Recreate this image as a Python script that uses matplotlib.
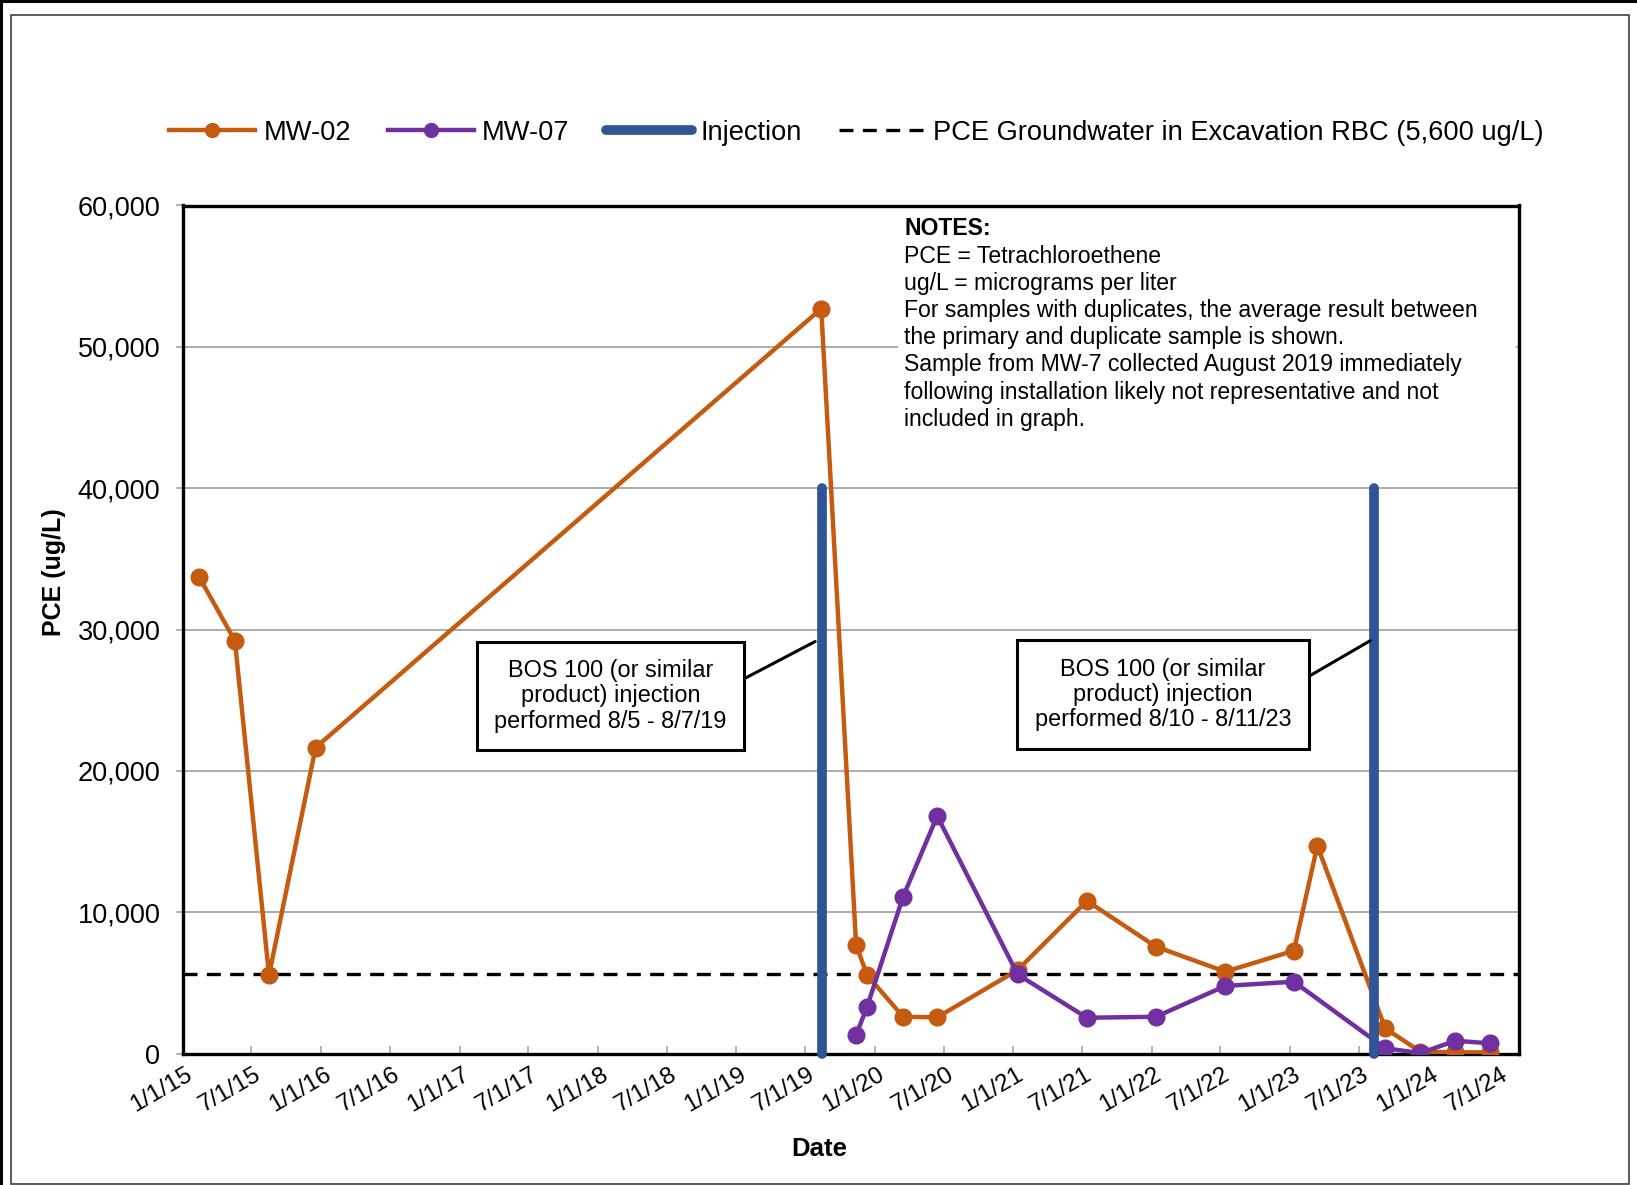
import numpy as np
import matplotlib
matplotlib.use("Agg")
import matplotlib.pyplot as plt
import matplotlib.dates as mdates
from matplotlib.lines import Line2D
from matplotlib.patches import Rectangle
from matplotlib.ticker import FuncFormatter, MultipleLocator
from matplotlib.transforms import ScaledTranslation

plt.rcParams['font.family'] = ['Liberation Sans', 'DejaVu Sans']

# MW-02 results (ug/L)
mw02_dates = np.array(['2015-02-14', '2015-05-19', '2015-08-17', '2015-12-18',
                       '2019-08-13', '2019-11-13', '2019-12-12', '2020-03-16',
                       '2020-06-14', '2021-01-12', '2021-07-14', '2022-01-12',
                       '2022-07-14', '2023-01-11', '2023-03-14', '2023-09-09',
                       '2023-12-11', '2024-03-12', '2024-06-12'], dtype='datetime64[D]')
mw02_pce = [33700, 29200, 5550, 21650,
            52700, 7680, 5550, 2600,
            2560, 5900, 10800, 7560,
            5790, 7270, 14700, 1780,
            130, 80, 80]

# MW-07 results (ug/L)
mw07_dates = np.array(['2019-11-13', '2019-12-12', '2020-03-16', '2020-06-14',
                       '2021-01-12', '2021-07-14', '2022-01-12', '2022-07-14',
                       '2023-01-11', '2023-09-09', '2023-12-11', '2024-03-12',
                       '2024-06-12'], dtype='datetime64[D]')
mw07_pce = [1310, 3310, 11100, 16800,
            5600, 2530, 2600, 4780,
            5080, 370, 30, 900,
            720]

injection_dates = np.array(['2019-08-14', '2023-08-10'], dtype='datetime64[D]')
injection_top = 40000
rbc_level = 5600

x_min = np.datetime64('2015-01-01')
x_max = np.datetime64('2024-08-27')

notes_text = ("PCE = Tetrachloroethene\n"
              "ug/L = micrograms per liter\n"
              "For samples with duplicates, the average result between\n"
              "the primary and duplicate sample is shown.\n"
              "Sample from MW-7 collected August 2019 immediately\n"
              "following installation likely not representative and not\n"
              "included in graph.")

box_labels = ["BOS 100 (or similar\nproduct) injection\nperformed 8/5 - 8/7/19",
              "BOS 100 (or similar\nproduct) injection\nperformed 8/10 - 8/11/23"]
box_centers = [(np.datetime64('2018-02-03'), 25300), (np.datetime64('2022-01-31'), 25400)]
box_arrow_ends = [(np.datetime64('2019-07-28'), 29150), (np.datetime64('2023-07-31'), 29200)]

orange = '#C55A11'
purple = '#7030A0'
blue = '#2F5597'

fig = plt.figure(figsize=(16.37, 11.85), dpi=100)

# outer frame
fig.add_artist(Rectangle((11 / 1637, 1 - 1183.5 / 1185), (1629 - 11) / 1637, (1183.5 - 14.5) / 1185,
                         transform=fig.transFigure, fill=False, ec='#404040', lw=1.2))
fig.add_artist(Line2D([0, 1], [1 - 1.3 / 1185] * 2, transform=fig.transFigure, color='black', lw=2.2))
fig.add_artist(Line2D([1.3 / 1637] * 2, [0, 1], transform=fig.transFigure, color='black', lw=2.2))

ax = fig.add_axes([182.6 / 1637, 1 - 1053.5 / 1185, (1519 - 182.6) / 1637, (1053.5 - 205.5) / 1185])

ax.set_ylim(0, 60000)
ax.set_xlim(x_min, x_max)
ax.yaxis.set_major_locator(MultipleLocator(10000))
ax.yaxis.set_major_formatter(FuncFormatter(lambda v, p: f"{v:,.0f}"))
ax.xaxis.set_major_locator(mdates.MonthLocator(bymonth=[1, 7], bymonthday=1))
ax.xaxis.set_major_formatter(FuncFormatter(
    lambda v, p: "{d.month}/{d.day}/{y:02d}".format(d=mdates.num2date(v), y=mdates.num2date(v).year % 100)))

ax.yaxis.grid(True, color='#a6a6a6', lw=1.3, zorder=0)
ax.set_axisbelow(True)
for s in ax.spines.values():
    s.set_linewidth(2.4)
    s.set_color('black')

ax.tick_params(axis='y', direction='out', length=5, width=1.2, color='#a6a6a6', labelsize=19.5, pad=11)
ax.tick_params(axis='x', direction='in', length=6, width=1.2, color='#a6a6a6', labelsize=17.5, pad=14)
offset = ScaledTranslation(6 / 72, 0, fig.dpi_scale_trans)
for lab in ax.get_xticklabels():
    lab.set_rotation(30)
    lab.set_ha('right')
    lab.set_va('center')
    lab.set_rotation_mode('anchor')
    lab.set_transform(lab.get_transform() + offset)

# notes box
ax.add_patch(Rectangle((0.535, 0.737), 0.463, 0.26, transform=ax.transAxes,
                       facecolor='white', edgecolor='none', zorder=1))
ax.text(0.540, 0.987, "NOTES:", transform=ax.transAxes, fontsize=16.6, fontweight='bold',
        va='top', ha='left', zorder=2)
ax.text(0.540, 0.954, notes_text, transform=ax.transAxes, fontsize=16.6,
        va='top', ha='left', linespacing=1.235, zorder=2)

ax.axhline(rbc_level, color='black', lw=2.4, dashes=(4.2, 2.8), zorder=3)

for d in injection_dates:
    ax.plot([d, d], [0, injection_top], color=blue, lw=7, solid_capstyle='round',
            zorder=5, clip_on=False)

ax.plot(mw02_dates, mw02_pce, color=orange, lw=3.2, marker='o', markersize=12, zorder=4)
ax.plot(mw07_dates, mw07_pce, color=purple, lw=3.2, marker='o', markersize=12, zorder=4)

for lbl, c, e in zip(box_labels, box_centers, box_arrow_ends):
    ax.annotate(lbl, xy=e, xytext=c, fontsize=16.9, ha='center', va='center',
                linespacing=1.12, zorder=6,
                bbox=dict(boxstyle='square,pad=0.75', fc='white', ec='black', lw=2.2),
                arrowprops=dict(arrowstyle='-', color='black', lw=2.2, relpos=(1.0, 0.61),
                                shrinkA=0, shrinkB=0))

fig.text(54 / 1637, 1 - 572 / 1185, "PCE (ug/L)", fontsize=18, fontweight='bold',
         rotation=90, ha='center', va='center')
fig.text(819 / 1637, 1 - 1149 / 1185, "Date", fontsize=18.5, fontweight='bold', ha='center', va='center')

handles = [Line2D([], [], color=orange, lw=3.2, marker='o', markersize=10),
           Line2D([], [], color=purple, lw=3.2, marker='o', markersize=10),
           Line2D([], [], color=blue, lw=7, solid_capstyle='round'),
           Line2D([], [], color='black', lw=2.4, dashes=(4.2, 2.8))]
labels = ["MW-02", "MW-07", "Injection", "PCE Groundwater in Excavation RBC (5,600 ug/L)"]
fig.legend(handles, labels, loc='center', bbox_to_anchor=(856.5 / 1637, 1 - 133 / 1185),
           ncol=4, frameon=False, fontsize=19.6, handlelength=3.15, handletextpad=0.31,
           columnspacing=1.35)

fig.savefig("out.png", dpi=100)
